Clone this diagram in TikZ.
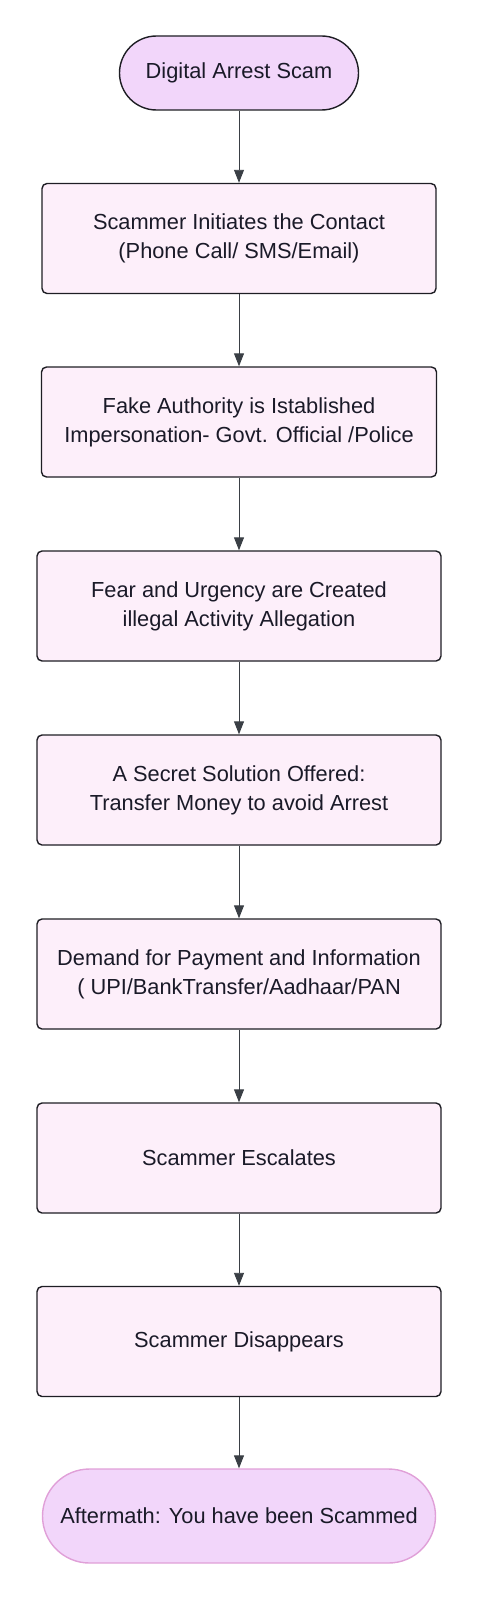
\documentclass[tikz,border=0pt]{standalone}
\usepackage{fontspec}
\setmainfont{Liberation Sans}
\usetikzlibrary{arrows.meta}
\definecolor{boxfill}{HTML}{FDEFFA}
\definecolor{pillfill}{HTML}{F2D6FA}
\definecolor{pillline}{HTML}{E0A0D8}
\definecolor{edgeline}{HTML}{1E1E24}
\definecolor{arrowline}{HTML}{3A3F45}
\definecolor{textcol}{HTML}{1A1A28}
\tikzset{
  startstop/.style={draw=edgeline,line width=1.4pt,fill=pillfill,text=textcol,
    align=center,inner sep=0pt,font=\fontsize{21.8}{29}\selectfont},
  process/.style={draw=edgeline,line width=1.4pt,fill=boxfill,text=textcol,
    rounded corners=5pt,align=center,inner sep=0pt,minimum height=110pt,
    font=\fontsize{21.8}{29}\selectfont},
  flow/.style={->,arrowline,line width=0.9pt}
}
\begin{document}
\begin{tikzpicture}[x=1pt,y=-1pt,>={Triangle[length=13pt,width=10pt]}]
    \useasboundingbox (0,0) rectangle (478,1600);
    \node[startstop,rounded corners=37pt,minimum width=239pt,minimum height=74pt] (start) at (239,73) {Digital Arrest Scam};
    \node[process,minimum width=394pt] (contact) at (239,238.5) {Scammer Initiates the Contact\\(Phone Call/ SMS/Email)};
    \node[process,minimum width=395pt] (authority) at (239,422) {Fake Authority is Istablished\\Impersonation- Govt. Official /Police};
    \node[process,minimum width=404pt] (fear) at (239,606) {Fear and Urgency are Created\\illegal Activity Allegation};
    \node[process,minimum width=404pt] (solution) at (239,790) {A Secret Solution Offered:\\Transfer Money to avoid Arrest};
    \node[process,minimum width=404pt] (demand) at (239,974) {Demand for Payment and Information\\( UPI/BankTransfer/Aadhaar/PAN};
    \node[process,minimum width=404pt] (escalate) at (239,1158) {Scammer Escalates};
    \node[process,minimum width=404pt] (vanish) at (239,1341.5) {Scammer Disappears};
    \node[startstop,draw=pillline,rounded corners=47pt,minimum width=393pt,minimum height=94pt] (aftermath) at (239,1516) {Aftermath: You have been Scammed};
    \draw[flow] (start) -- (contact);
    \draw[flow] (contact) -- (authority);
    \draw[flow] (authority) -- (fear);
    \draw[flow] (fear) -- (solution);
    \draw[flow] (solution) -- (demand);
    \draw[flow] (demand) -- (escalate);
    \draw[flow] (escalate) -- (vanish);
    \draw[flow] (vanish) -- (aftermath);
\end{tikzpicture}
\end{document}
